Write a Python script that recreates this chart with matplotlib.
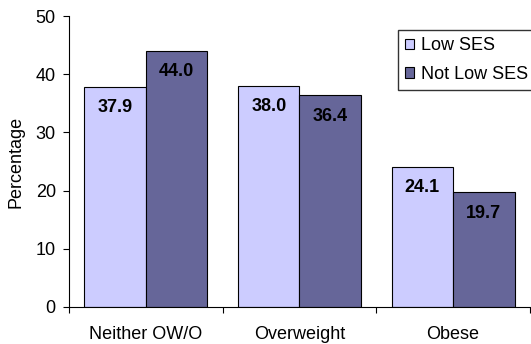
import numpy as np
import matplotlib.pyplot as plt

plt.rcParams['font.family'] = ['Liberation Sans', 'DejaVu Sans']

categories = ["Neither OW/O", "Overweight", "Obese"]
low_ses = [37.9, 38.0, 24.1]
not_low_ses = [44.0, 36.4, 19.7]
series_names = ["Low SES", "Not Low SES"]
colors = ["#CCCCFF", "#666699"]

fig = plt.figure(figsize=(5.31, 3.44), dpi=100)
ax = fig.add_axes([0.130, 0.108, 0.868, 0.845])

x = np.arange(len(categories))
w = 0.4
bars1 = ax.bar(x - w / 2, low_ses, w, color=colors[0], edgecolor="black", linewidth=0.8, label=series_names[0])
bars2 = ax.bar(x + w / 2, not_low_ses, w, color=colors[1], edgecolor="black", linewidth=0.8, label=series_names[1])

# value labels sit just inside the top of each bar
for bars, vals in [(bars1, low_ses), (bars2, not_low_ses)]:
    for b, v in zip(bars, vals):
        ax.annotate(f"{v:.1f}", (b.get_x() + b.get_width() / 2, v),
                    xytext=(0, -15), textcoords="offset points",
                    ha="center", va="center", fontsize=13, fontweight="bold")

ax.set_xlim(-0.5, 2.5)
ax.set_ylim(0, 50)
ax.set_yticks(range(0, 51, 10))
ax.set_xticks([-0.5, 0.5, 1.5, 2.5])
ax.set_xticklabels([])
ax.set_xticks(x, categories, minor=True)
ax.tick_params(axis="x", which="minor", length=0, pad=14, labelsize=13)
ax.tick_params(axis="x", which="major", length=4.5, direction="out")
ax.tick_params(axis="y", length=4.5, pad=5, labelsize=13)
ax.set_ylabel("Percentage", fontsize=13, labelpad=8)

for s in ["top", "right"]:
    ax.spines[s].set_visible(False)
for s in ["left", "bottom"]:
    ax.spines[s].set_linewidth(0.8)

fig.legend(loc="upper left", bbox_to_anchor=(398 / 531, 1 - 30 / 344),
           fontsize=13, frameon=True, fancybox=False, edgecolor="black",
           handlelength=0.5, handleheight=0.5, handletextpad=0.4,
           labelspacing=0.65, borderpad=0.4, borderaxespad=0)

fig.savefig("out.png", dpi=100)
